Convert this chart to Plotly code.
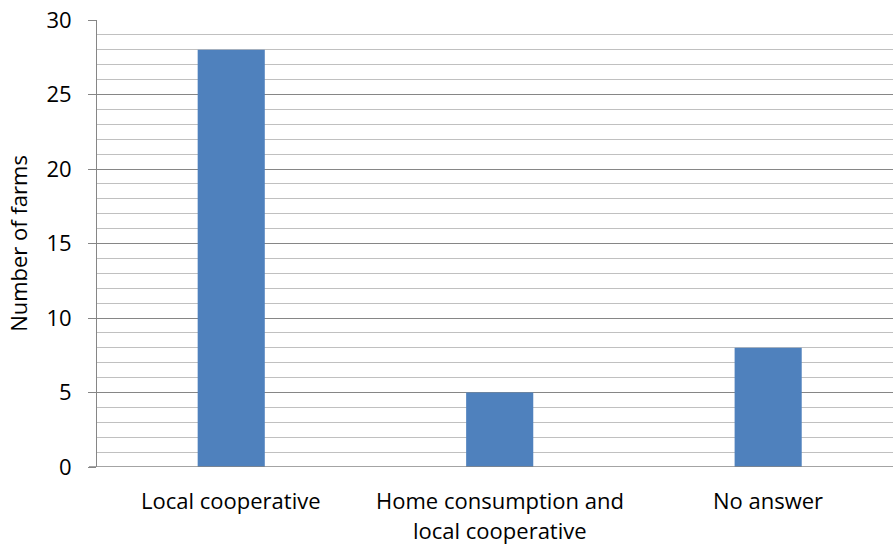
import plotly.graph_objects as go

categories = ["Local cooperative", "Home consumption and\nlocal cooperative", "No answer"]
values = [28, 5, 8]
y_ticks = [0, 5, 10, 15, 20, 25, 30]
y_title = "Number of farms"

FONT = "Open Sans"
FS = 22

fig = go.Figure()
fig.add_trace(go.Bar(
    x=list(range(len(categories))),
    y=values,
    width=0.25,
    marker=dict(color="#4F81BD", line=dict(width=0)),
))

annotations = []
for i, cat in enumerate(categories):
    for j, line in enumerate(cat.split("\n")):
        annotations.append(dict(
            x=i, xref="x", y=0, yref="y",
            yshift=-(17 + 30 * j), yanchor="top",
            text=line, showarrow=False, borderpad=0,
            font=dict(family=FONT, size=FS, color="#000000"),
        ))

fig.update_layout(
    width=893, height=546,
    margin=dict(l=97, r=0, t=20, b=79),
    paper_bgcolor="white", plot_bgcolor="white",
    showlegend=False,
    font=dict(family=FONT, size=FS, color="#000000"),
    annotations=annotations,
    xaxis=dict(
        range=[-0.5, 2.465],
        showticklabels=False, ticks="",
        showgrid=False, zeroline=False,
        showline=False,
    ),
    yaxis=dict(
        range=[0, 30],
        tickvals=y_ticks,
        ticks="outside", ticklen=8, tickcolor="#868686", tickwidth=1,
        showline=True, linecolor="#868686", linewidth=1,
        showgrid=True, gridcolor="#868686", gridwidth=1,
        zeroline=False,
        minor=dict(dtick=1, showgrid=True, gridcolor="#C0C0C0", gridwidth=1, ticks=""),
        ticklabelstandoff=12,
        title=dict(text=y_title, standoff=12, font=dict(family=FONT, size=FS)),
        tickfont=dict(family=FONT, size=FS),
    ),
    shapes=[dict(type="line", xref="paper", yref="y", x0=-8/796, x1=1, y0=0, y1=0,
                 line=dict(color="#868686", width=1.5))],
)

fig.write_html("out.html")
